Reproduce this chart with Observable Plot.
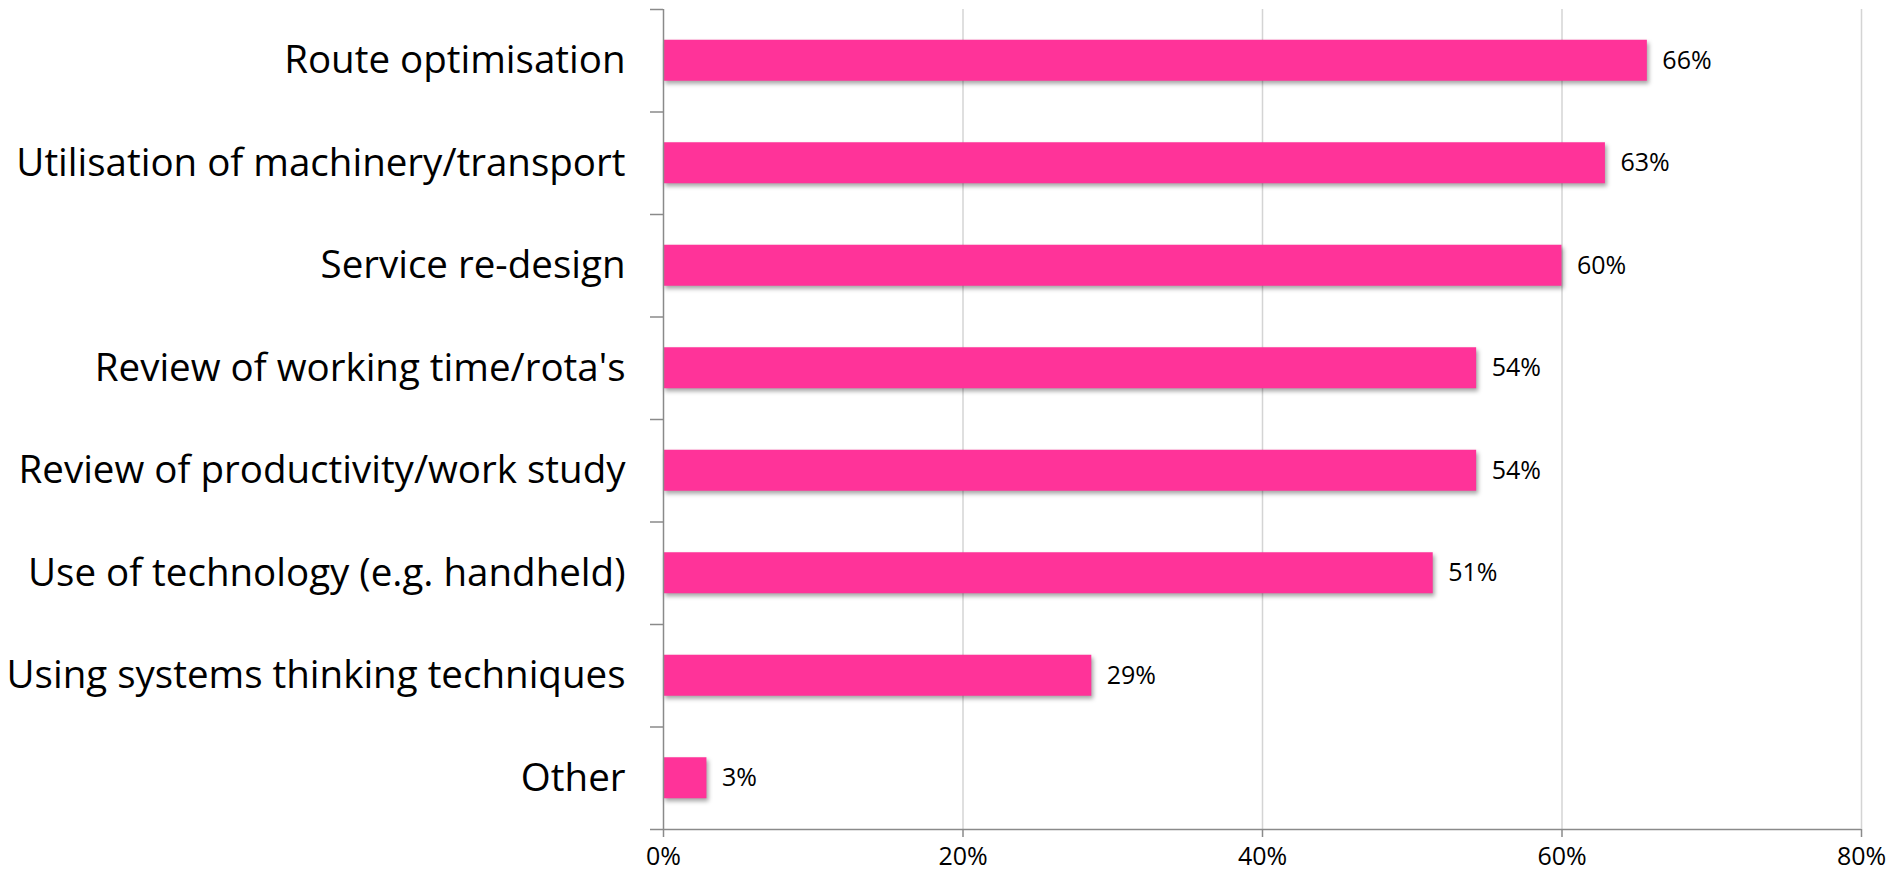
<!DOCTYPE html>
<html>
<head>
<meta charset="utf-8">
<script src="https://cdn.jsdelivr.net/npm/d3@7"></script>
<script src="https://cdn.jsdelivr.net/npm/@observablehq/plot@0.6"></script>
<style>
  html, body { margin: 0; padding: 0; background: #fff; }
  #chart svg { display: block; }
</style>
</head>
<body>
<div id="chart"></div>
<script>
const categories = [
  "Route optimisation",
  "Utilisation of machinery/transport",
  "Service re-design",
  "Review of working time/rota's",
  "Review of productivity/work study",
  "Use of technology (e.g. handheld)",
  "Using systems thinking techniques",
  "Other"
];
const values = [65.7, 62.9, 60.0, 54.3, 54.3, 51.4, 28.6, 2.9];
const valueLabels = ["66%", "63%", "60%", "54%", "54%", "51%", "29%", "3%"];
const xTicks = [0, 20, 40, 60, 80];
const xTickLabels = ["0%", "20%", "40%", "60%", "80%"];

const rows = categories.map((c, i) => ({cat: c, i, value: values[i], label: valueLabels[i]}));
const boundaries = d3.range(categories.length + 1).map(i => i - 0.5);
const half = 0.2;

const chart = Plot.plot({
  width: 1889,
  height: 872,
  marginLeft: 663,
  marginRight: 28,
  marginTop: 9,
  marginBottom: 43,
  style: {fontFamily: "'Open Sans', Lato, sans-serif", color: "#000", background: "#fff"},
  x: {domain: [0, 80]},
  y: {domain: [categories.length - 0.5, -0.5]},
  marks: [
    Plot.gridX(xTicks.slice(1), {stroke: "#d4d4d4", strokeOpacity: 1, strokeWidth: 1.5}),
    Plot.rectX(rows, {x1: 0, x2: "value", y1: d => d.i - half, y2: d => d.i + half,
      fill: "#000", fillOpacity: 0.35, dx: 2, dy: 3, imageFilter: "blur(2px)"}),
    Plot.rectX(rows, {x1: 0, x2: "value", y1: d => d.i - half, y2: d => d.i + half, fill: "#ff3399"}),
    Plot.text(rows, {x: "value", y: "i", text: "label", dx: 15, textAnchor: "start", fontSize: 25, fill: "#000"}),
    Plot.ruleX([0], {stroke: "#8a8a8a", strokeWidth: 1.5}),
    Plot.ruleY([categories.length - 0.5], {stroke: "#8a8a8a", strokeWidth: 1.5}),
    Plot.axisY({ticks: boundaries, tickFormat: () => "", tickSize: 13, stroke: "#8a8a8a", strokeWidth: 1.5, label: null}),
    Plot.axisY({ticks: d3.range(categories.length), tickFormat: i => categories[i], tickSize: 0, tickPadding: 38, fontSize: 38.5, fill: "#000", label: null}),
    Plot.axisX({ticks: xTicks, tickFormat: (d, k) => xTickLabels[k], tickSize: 8, tickPadding: 10, stroke: "#8a8a8a", strokeWidth: 1.5, fontSize: 25, fill: "#000", label: null})
  ]
});
document.getElementById("chart").appendChild(chart);
</script>
</body>
</html>
